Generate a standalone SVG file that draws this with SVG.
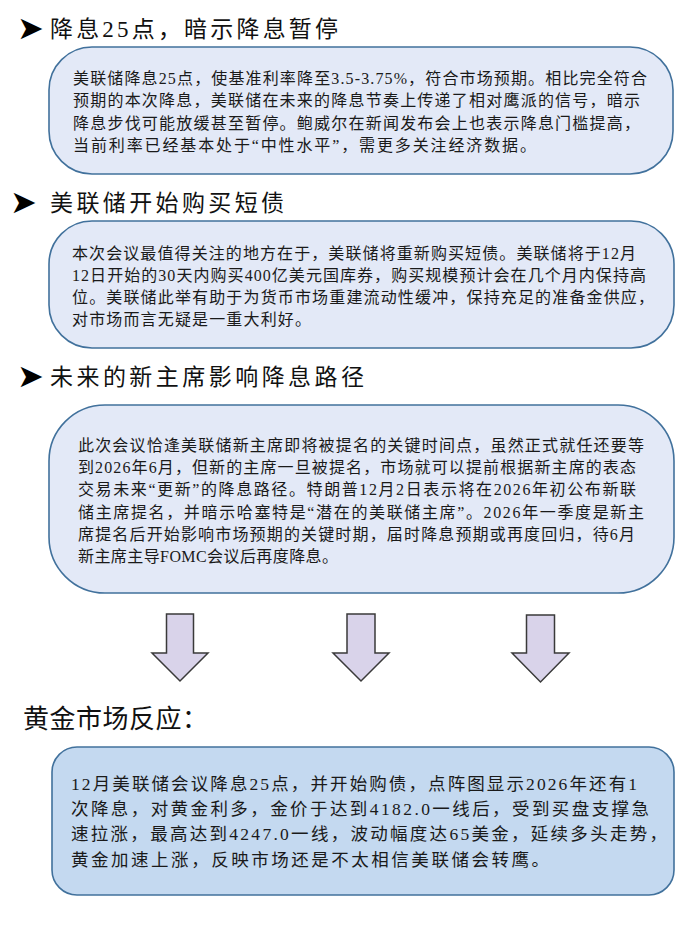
<svg xmlns="http://www.w3.org/2000/svg" width="700" height="948" viewBox="0 0 700 948">
<style>
.hd{font-family:"Liberation Serif","Noto Sans CJK SC",serif;font-size:23px;fill:#111;}
.hd4{font-family:"Liberation Serif","Noto Sans CJK SC",serif;font-size:26px;fill:#111;}
.bul{font-family:"DejaVu Sans",sans-serif;font-size:32px;fill:#000;}
.tx{font-family:"Liberation Serif","Noto Sans CJK SC",serif;font-size:16px;fill:#1a1a1a;}
.tx4{font-family:"Liberation Serif","Noto Sans CJK SC",serif;font-size:17.5px;fill:#1a1a1a;}
.box{fill:#E3E9F7;stroke:#41719C;stroke-width:1.6;}
.box4{fill:#C4D9F0;stroke:#41719C;stroke-width:1.6;}
.arr{fill:#D9D3EA;stroke:#3A3A3A;stroke-width:1.5;stroke-linejoin:miter;}
</style>
<rect width="700" height="948" fill="#FFFFFF"/>

<g id="header1">
<text class="bul" x="17" y="39">➤</text>
<text class="hd" x="50" y="37" textLength="288" lengthAdjust="spacing">降息25点，暗示降息暂停</text>
</g>
<g id="node1">
<rect class="box" x="49" y="47" width="624" height="127" rx="43" ry="43"/>
<text class="tx" x="73" y="84" textLength="574" lengthAdjust="spacing">美联储降息25点，使基准利率降至3.5-3.75%，符合市场预期。相比完全符合</text>
<text class="tx" x="73" y="106" textLength="567" lengthAdjust="spacing">预期的本次降息，美联储在未来的降息节奏上传递了相对鹰派的信号，暗示</text>
<text class="tx" x="73" y="128.5" textLength="567" lengthAdjust="spacing">降息步伐可能放缓甚至暂停。鲍威尔在新闻发布会上也表示降息门槛提高，</text>
<text class="tx" x="73" y="150.5" textLength="463" lengthAdjust="spacing">当前利率已经基本处于“中性水平”，需更多关注经济数据。</text>
</g>

<g id="header2">
<text class="bul" x="10" y="213">➤</text>
<text class="hd" x="50" y="211" textLength="234" lengthAdjust="spacing">美联储开始购买短债</text>
</g>
<g id="node2">
<rect class="box" x="49" y="221" width="625" height="127" rx="43" ry="43"/>
<text class="tx" x="72" y="259" textLength="564" lengthAdjust="spacing">本次会议最值得关注的地方在于，美联储将重新购买短债。美联储将于12月</text>
<text class="tx" x="72" y="281" textLength="574" lengthAdjust="spacing">12日开始的30天内购买400亿美元国库券，购买规模预计会在几个月内保持高</text>
<text class="tx" x="72" y="303" textLength="582" lengthAdjust="spacing">位。美联储此举有助于为货币市场重建流动性缓冲，保持充足的准备金供应，</text>
<text class="tx" x="72" y="325" textLength="239" lengthAdjust="spacing">对市场而言无疑是一重大利好。</text>
</g>

<g id="header3">
<text class="bul" x="17" y="387">➤</text>
<text class="hd" x="50" y="385" textLength="314" lengthAdjust="spacing">未来的新主席影响降息路径</text>
</g>
<g id="node3">
<rect class="box" x="49" y="405" width="625" height="188" rx="56" ry="56"/>
<text class="tx" x="78" y="450.5" textLength="566" lengthAdjust="spacing">此次会议恰逢美联储新主席即将被提名的关键时间点，虽然正式就任还要等</text>
<text class="tx" x="78" y="472.5" textLength="558" lengthAdjust="spacing">到2026年6月，但新的主席一旦被提名，市场就可以提前根据新主席的表态</text>
<text class="tx" x="78" y="495" textLength="558" lengthAdjust="spacing">交易未来“更新”的降息路径。特朗普12月2日表示将在2026年初公布新联</text>
<text class="tx" x="78" y="517.5" textLength="566" lengthAdjust="spacing">储主席提名，并暗示哈塞特是“潜在的美联储主席”。2026年一季度是新主</text>
<text class="tx" x="78" y="540" textLength="557" lengthAdjust="spacing">席提名后开始影响市场预期的关键时期，届时降息预期或再度回归，待6月</text>
<text class="tx" x="78" y="562" textLength="260" lengthAdjust="spacing">新主席主导FOMC会议后再度降息。</text>
</g>

<g id="connectors">
<polygon class="arr" points="166.5,614 193.5,614 193.5,653 208,653 180,681 152,653 166.5,653"/>
<polygon class="arr" points="347,614 375,614 375,653 389,653 361,681 333,653 347,653"/>
<polygon class="arr" points="526.5,615 554.5,615 554.5,653 569,653 540.5,682 512,653 526.5,653"/>
</g>

<g id="header4">
<text class="hd4" x="23" y="728" textLength="185" lengthAdjust="spacing">黄金市场反应：</text>
</g>
<g id="node4">
<rect class="box4" x="52" y="747" width="622" height="148" rx="25" ry="25"/>
<text class="tx4" x="71" y="790" textLength="566" lengthAdjust="spacing">12月美联储会议降息25点，并开始购债，点阵图显示2026年还有1</text>
<text class="tx4" x="71" y="815" textLength="578" lengthAdjust="spacing">次降息，对黄金利多，金价于达到4182.0一线后，受到买盘支撑急</text>
<text class="tx4" x="71" y="840" textLength="596" lengthAdjust="spacing">速拉涨，最高达到4247.0一线，波动幅度达65美金，延续多头走势，</text>
<text class="tx4" x="71" y="866" textLength="478" lengthAdjust="spacing">黄金加速上涨，反映市场还是不太相信美联储会转鹰。</text>
</g>
</svg>
